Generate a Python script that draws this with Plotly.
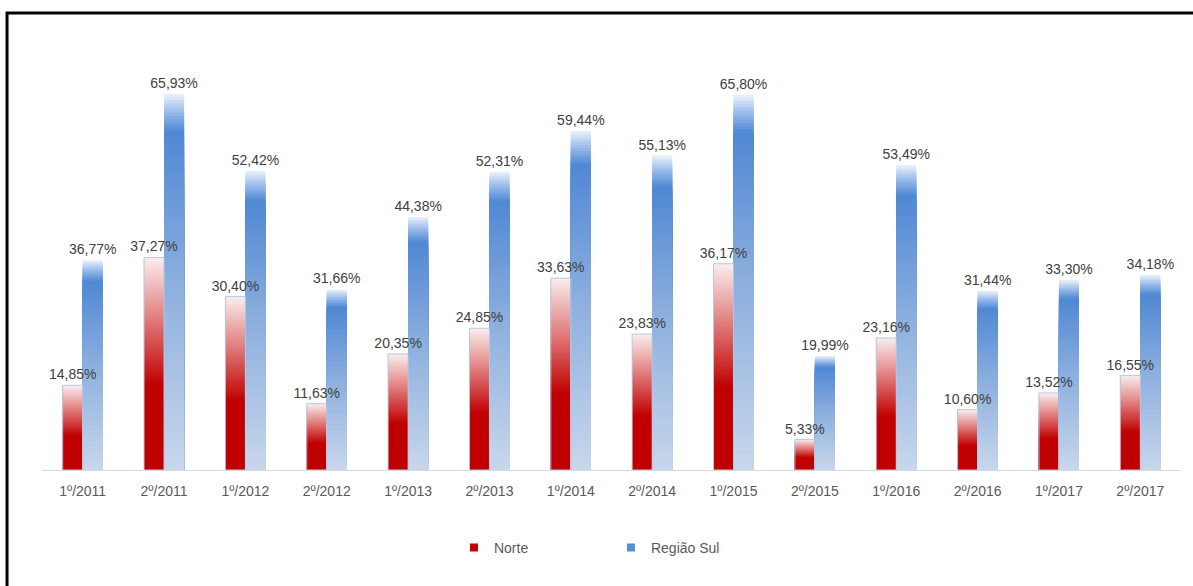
import plotly.graph_objects as go

categories = ["1º/2011", "2º/2011", "1º/2012", "2º/2012", "1º/2013", "2º/2013", "1º/2014",
              "2º/2014", "1º/2015", "2º/2015", "1º/2016", "2º/2016", "1º/2017", "2º/2017"]
norte = [14.85, 37.27, 30.40, 11.63, 20.35, 24.85, 33.63, 23.83, 36.17, 5.33, 23.16, 10.60, 13.52, 16.55]
sul = [36.77, 65.93, 52.42, 31.66, 44.38, 52.31, 59.44, 55.13, 65.80, 19.99, 53.49, 31.44, 33.30, 34.18]

FONT = "Arial, Liberation Sans, sans-serif"
TXT = "#404040"

# gradient stops (fraction of bar height -> rgb)
norte_stops = [(0.0, (192, 0, 0)), (0.40, (192, 0, 0)), (0.70, (224, 120, 120)), (1.0, (250, 238, 238))]
sul_stops = [(0.0, (200, 215, 235)), (0.50, (140, 175, 222)), (0.90, (80, 136, 212)), (0.95, (150, 185, 232)), (1.0, (235, 242, 252))]


def color_at(stops, f):
    for (f0, c0), (f1, c1) in zip(stops[:-1], stops[1:]):
        if f0 <= f <= f1:
            t = 0 if f1 == f0 else (f - f0) / (f1 - f0)
            c = [round(a + (b - a) * t) for a, b in zip(c0, c1)]
            return "rgb(%d,%d,%d)" % tuple(c)
    return "rgb(%d,%d,%d)" % stops[-1][1]


def fmt(v):
    return ("%.2f" % v).replace(".", ",") + "%"


W = 0.246
N = 120
fig = go.Figure()


def add_gradient(vals, stops, offset):
    for k in range(N, 0, -1):
        f = k / N
        fig.add_trace(go.Bar(
            x=categories, y=[v * f for v in vals], width=W, offset=offset,
            marker=dict(color=color_at(stops, (k - 0.5) / N), line=dict(width=0)),
            showlegend=False, hoverinfo="skip",
        ))


def add_labels(vals, offset, outline):
    fig.add_trace(go.Bar(
        x=categories, y=vals, width=W, offset=offset,
        marker=dict(color="rgba(0,0,0,0)", line=dict(width=1 if outline else 0, color="#B4C7E7")),
        text=[fmt(v) for v in vals], textposition="outside", cliponaxis=False,
        constraintext="none",
        textfont=dict(family=FONT, size=14, color=TXT),
        showlegend=False, hoverinfo="skip",
    ))


def add_legend(name, color):
    fig.add_trace(go.Scatter(
        x=[None], y=[None], mode="markers", name=name,
        marker=dict(symbol="square", size=8, color=color), showlegend=True, hoverinfo="skip",
    ))


add_gradient(norte, norte_stops, -W)
add_gradient(sul, sul_stops, 0)
add_labels(norte, -W, True)
add_labels(sul, 0, False)
add_legend("Norte", "#C00000")
add_legend("Região Sul", "#558ED5")

fig.update_layout(
    width=1193, height=586,
    margin=dict(l=42, r=12, t=40, b=116),
    barmode="overlay",
    paper_bgcolor="white", plot_bgcolor="white",
    font=dict(family=FONT, size=14, color=TXT),
    xaxis=dict(showgrid=False, showline=True, linecolor="#D9D9D9", linewidth=1,
               ticks="", ticklabelstandoff=8, tickfont=dict(size=14, color="#595959"), fixedrange=True),
    yaxis=dict(range=[0, 75.4], visible=False, showgrid=False, zeroline=False),
    legend=dict(orientation="h", x=0.3617, xanchor="left", y=-0.181, yanchor="middle",
                font=dict(size=14, color="#595959"), entrywidth=112, traceorder="normal"),
    shapes=[dict(type="rect", xref="paper", yref="paper", x0=-0.0307, x1=1.2, y0=-0.4, y1=1.0628,
                 line=dict(color="black", width=3), fillcolor="rgba(0,0,0,0)", layer="above")],
    showlegend=True,
)

fig.write_html("out.html")
